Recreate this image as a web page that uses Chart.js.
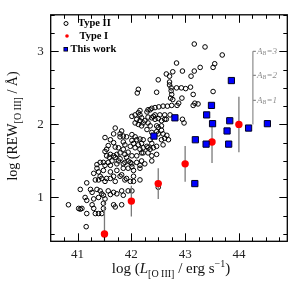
<!DOCTYPE html>
<html>
<head>
<meta charset="utf-8">
<script src="https://cdn.jsdelivr.net/npm/chart.js@4.4.1/dist/chart.umd.min.js"></script>
<style>
html, body { margin: 0; padding: 0; background: #fff; }
</style>
</head>
<body>
<canvas id="chart" width="299" height="286"></canvas>
<script>
// axis ticks
const xTicks = [41, 42, 43, 44];
const yTicks = [1, 2, 3];
const xMinor = [40.75, 41.25, 41.5, 41.75, 42.25, 42.5, 42.75, 43.25, 43.5, 43.75, 44.25, 44.5, 44.75];
const yMinor = [0.5, 0.75, 1.25, 1.5, 1.75, 2.25, 2.5, 2.75, 3.25, 3.5];

// Type II (open circles)
const typeIIX = [
  43.17,43.37,43.69,42.84,43.55,43.52,43.28,43.17,42.95,42.77,
  42.65,42.71,43.11,42.50,42.71,42.71,42.74,42.84,42.93,43.01,
  43.10,42.47,42.74,42.75,43.52,43.15,42.94,42.73,42.77,42.13,
  42.11,42.88,42.85,43.15,43.18,43.24,42.67,42.75,42.51,42.59,
  42.35,42.44,42.44,42.53,42.62,42.72,42.95,42.98,42.38,42.44,
  42.50,42.56,42.62,42.35,42.47,42.56,42.38,42.47,42.59,42.35,
  42.59,42.29,42.31,42.31,42.29,42.66,42.62,42.56,42.29,42.35,
  42.41,42.31,42.38,42.47,42.69,42.65,42.16,42.13,42.07,42.01,
  42.16,42.19,42.10,42.16,42.07,42.13,42.22,42.19,42.25,42.31,
  42.38,42.41,42.50,42.56,42.50,41.70,41.82,41.79,41.85,41.91,
  41.79,41.67,41.51,41.61,41.67,41.57,41.70,41.54,41.51,42.01,
  42.07,42.10,42.16,42.01,42.04,42.13,42.19,41.98,42.07,42.16,
  42.22,42.22,41.85,41.88,41.76,41.85,41.79,41.88,41.73,41.94,
  41.61,41.54,41.67,41.59,42.31,42.19,42.38,42.47,42.22,41.70,
  41.79,41.91,42.01,42.10,41.98,41.85,41.73,41.64,41.61,41.42,
  41.51,41.36,41.48,41.61,41.73,41.85,42.01,42.16,42.25,42.38,
  41.30,41.42,41.54,41.67,41.82,41.91,42.04,42.16,41.98,41.33,
  41.36,41.48,41.57,41.76,41.88,41.94,42.01,42.10,42.19,41.39,
  41.94,42.04,42.16,41.17,41.39,41.45,41.51,41.61,41.70,41.79,
  41.88,42.04,41.05,41.24,41.27,41.36,41.42,41.45,41.57,41.61,
  41.67,41.73,41.82,41.85,41.94,42.01,41.14,41.17,41.30,41.39,
  41.48,41.51,40.83,41.02,41.05,41.08,41.27,41.30,41.48,41.48,
  41.67,41.70,41.82,41.17,41.33,41.39,41.45,41.16,42.50
];
const typeIIY = [
  3.10,3.06,2.95,2.84,2.83,2.78,2.78,2.73,2.73,2.72,
  2.69,2.66,2.66,2.61,2.58,2.54,2.50,2.50,2.50,2.49,
  2.51,2.44,2.46,2.41,2.45,2.41,2.36,2.36,2.34,2.48,
  2.43,2.29,2.26,2.26,2.29,2.28,2.25,2.26,2.24,2.25,
  2.20,2.23,2.13,2.13,2.13,2.13,2.07,2.02,2.09,2.07,
  2.08,2.05,2.07,1.98,1.98,1.98,1.89,1.90,1.87,1.79,
  1.72,2.17,2.10,2.02,1.93,1.85,1.81,1.79,1.70,1.66,
  1.68,1.61,1.57,1.59,1.79,2.07,2.19,2.16,2.13,2.11,
  2.13,2.09,2.07,2.05,2.02,2.00,2.02,1.98,2.05,2.20,
  2.22,2.11,1.96,1.92,1.87,1.95,1.91,1.87,1.84,1.83,
  1.83,1.87,1.82,1.79,1.75,1.71,1.69,1.66,1.63,1.86,
  1.83,1.79,1.80,1.78,1.74,1.72,1.74,1.70,1.68,1.66,
  1.68,1.61,1.76,1.72,1.68,1.66,1.61,1.59,1.59,1.62,
  1.59,1.57,1.57,1.55,1.68,1.61,1.74,1.70,1.79,1.55,
  1.53,1.55,1.57,1.57,1.48,1.46,1.46,1.50,1.44,1.48,
  1.44,1.40,1.37,1.35,1.37,1.40,1.42,1.44,1.46,1.50,
  1.33,1.29,1.26,1.29,1.31,1.26,1.29,1.24,1.22,1.24,
  1.45,1.48,1.48,1.50,1.48,1.50,1.46,1.48,1.50,1.35,
  1.40,1.37,1.40,1.20,1.24,1.26,1.22,1.26,1.22,1.29,
  1.24,1.22,1.11,1.11,1.07,1.11,1.09,1.05,1.09,1.04,
  1.07,1.05,1.09,1.03,1.09,1.09,1.00,0.96,0.98,1.00,
  1.03,0.98,0.90,0.85,0.84,0.85,0.90,0.85,0.92,0.85,
  0.90,0.87,0.90,0.78,0.78,0.78,0.78,0.60,1.14
];

// Type I (red, with error bars)
const typeIX = [41.5, 42.0, 42.5, 43.0, 43.5, 44.0];
const typeIY = [0.50, 0.95, 1.19, 1.46, 1.76, 2.00];
const typeIErr = [0.44, 0.21, 0.21, 0.245, 0.29, 0.38];

// This work (blue squares)
const workX = [43.86, 43.49, 43.40, 43.51, 43.83, 43.78, 44.18, 44.53, 43.19, 43.39, 43.81, 42.81, 42.42, 43.18];
const workY = [2.60, 2.26, 2.13, 2.01, 2.05, 1.91, 1.95, 2.01, 1.79, 1.73, 1.73, 2.09, 1.84, 1.19];

// A_B scale bar
const abX = 44.26;
const abBase = 2.0;
const abVals = [1, 2, 3];
const abLevels = [2.33, 2.67, 3.0];

const toPts = (xs, ys) => xs.map((x, i) => ({ x: x, y: ys[i] }));

const SERIF = '"Liberation Serif", "DejaVu Serif", serif';

function drawSegs(ctx, segs, x, y) {
    let total = 0;
    segs.forEach(s => { ctx.font = s.font; total += ctx.measureText(s.t).width; });
    let cx = x - total / 2;
    segs.forEach(s => {
        ctx.font = s.font;
        ctx.fillText(s.t, cx, y + (s.dy || 0));
        cx += ctx.measureText(s.t).width;
    });
}

const errorBars = {
    id: 'errorBars',
    beforeDatasetDraw(chart, args) {
        if (args.index !== 1) return;
        const ctx = chart.ctx, xs = chart.scales.x, ys = chart.scales.y, a = chart.chartArea;
        ctx.save();
        ctx.beginPath();
        ctx.rect(a.left, a.top, a.right - a.left, a.bottom - a.top);
        ctx.clip();
        ctx.strokeStyle = '#7a7a7a';
        ctx.lineWidth = 1.3;
        ctx.beginPath();
        typeIX.forEach((x, i) => {
            const px = xs.getPixelForValue(x);
            ctx.moveTo(px, ys.getPixelForValue(typeIY[i] + typeIErr[i]));
            ctx.lineTo(px, ys.getPixelForValue(typeIY[i] - typeIErr[i]));
        });
        ctx.stroke();
        ctx.restore();
    }
};

const frame = {
    id: 'frame',
    afterDraw(chart) {
        const ctx = chart.ctx, xs = chart.scales.x, ys = chart.scales.y, a = chart.chartArea;
        ctx.save();

        // ticks on all four sides, pointing in
        ctx.strokeStyle = '#000';
        ctx.lineWidth = 1;
        ctx.beginPath();
        const xMarks = (vals, len) => vals.forEach(v => {
            const p = Math.round(xs.getPixelForValue(v)) + 0.5;
            ctx.moveTo(p, a.bottom); ctx.lineTo(p, a.bottom - len);
            ctx.moveTo(p, a.top); ctx.lineTo(p, a.top + len);
        });
        const yMarks = (vals, len) => vals.forEach(v => {
            const p = Math.round(ys.getPixelForValue(v)) + 0.5;
            ctx.moveTo(a.left, p); ctx.lineTo(a.left + len, p);
            ctx.moveTo(a.right, p); ctx.lineTo(a.right - len, p);
        });
        xMarks(xTicks, 8); xMarks(xMinor, 4);
        yMarks(yTicks, 8); yMarks(yMinor, 4);
        ctx.stroke();

        ctx.lineWidth = 1.3;
        ctx.strokeRect(a.left, a.top, a.right - a.left, a.bottom - a.top);

        // A_B scale bar
        ctx.strokeStyle = '#8c8c8c';
        ctx.fillStyle = '#8c8c8c';
        ctx.lineWidth = 1.2;
        const bx = xs.getPixelForValue(abX);
        ctx.beginPath();
        ctx.moveTo(bx, ys.getPixelForValue(abBase));
        ctx.lineTo(bx, ys.getPixelForValue(abLevels[abLevels.length - 1]));
        abLevels.forEach(v => {
            const py = ys.getPixelForValue(v);
            ctx.moveTo(bx, py); ctx.lineTo(bx + 3, py);
        });
        ctx.stroke();
        ctx.textBaseline = 'middle';
        ctx.textAlign = 'left';
        abLevels.forEach((v, i) => {
            const py = ys.getPixelForValue(v);
            let cx = bx + 4;
            ctx.font = 'italic 9px ' + SERIF;
            ctx.fillText('A', cx, py);
            cx += ctx.measureText('A').width;
            ctx.font = 'italic 6px ' + SERIF;
            ctx.fillText('B', cx, py + 2);
            cx += ctx.measureText('B').width + 0.5;
            ctx.font = 'italic 9px ' + SERIF;
            ctx.fillText('=' + abVals[i], cx, py);
        });

        // legend
        ctx.lineWidth = 1;
        ctx.strokeStyle = '#000';
        ctx.beginPath();
        ctx.arc(66, 23.5, 2, 0, Math.PI * 2);
        ctx.stroke();
        ctx.fillStyle = '#ff0000';
        ctx.beginPath();
        ctx.arc(67, 36, 1.8, 0, Math.PI * 2);
        ctx.fill();
        ctx.fillStyle = '#000';
        ctx.fillRect(63.5, 47, 4.5, 4.5);
        ctx.fillStyle = '#0000ff';
        ctx.fillRect(64.3, 47.8, 2.9, 2.9);
        ctx.fillStyle = '#000';
        ctx.font = 'bold 10.5px ' + SERIF;
        ctx.textBaseline = 'middle';
        ctx.fillText('Type II', 78, 23.5);
        ctx.fillText('Type I', 79.5, 36.5);
        ctx.fillText('This work', 70.5, 49.5);

        // axis titles
        ctx.fillStyle = '#111';
        ctx.textBaseline = 'alphabetic';
        ctx.textAlign = 'left';
        const big = '15px ' + SERIF, small = '10px ' + SERIF;
        drawSegs(ctx, [
            { t: 'log (', font: big },
            { t: 'L', font: 'italic ' + big },
            { t: '[O III]', font: small, dy: 4 },
            { t: ' / erg s', font: big },
            { t: '\u22121', font: small, dy: -6 },
            { t: ')', font: big }
        ], 171, 273);

        ctx.translate(17, 126);
        ctx.rotate(-Math.PI / 2);
        drawSegs(ctx, [
            { t: 'log (REW', font: '14px ' + SERIF },
            { t: '[O III]', font: small, dy: 4 },
            { t: ' / \u00c5)', font: '14px ' + SERIF }
        ], 0, 0);
        ctx.restore();
    }
};

new Chart(document.getElementById('chart'), {
    type: 'scatter',
    data: {
        datasets: [
            {
                label: 'This work',
                data: toPts(workX, workY),
                pointStyle: 'rect',
                pointRadius: 4.4,
                backgroundColor: '#0000ff',
                borderColor: '#000022',
                borderWidth: 1
            },
            {
                label: 'Type I',
                data: toPts(typeIX, typeIY),
                pointStyle: 'circle',
                pointRadius: 3.7,
                backgroundColor: '#ff0000',
                borderColor: '#ff0000',
                borderWidth: 0
            },
            {
                label: 'Type II',
                data: toPts(typeIIX, typeIIY),
                pointStyle: 'circle',
                pointRadius: 2.3,
                backgroundColor: 'rgba(0,0,0,0)',
                borderColor: '#000',
                borderWidth: 1
            }
        ]
    },
    options: {
        responsive: false,
        animation: false,
        layout: { padding: { top: 4, right: 11.7, left: 0, bottom: 0 } },
        plugins: { legend: { display: false }, tooltip: { enabled: false } },
        scales: {
            x: {
                type: 'linear',
                min: 40.5,
                max: 44.9,
                grid: { display: false, drawTicks: false },
                border: { display: false },
                afterBuildTicks: s => { s.ticks = xTicks.map(v => ({ value: v })); },
                afterFit: s => { s.height = 44.7; },
                ticks: { color: '#222', padding: 5, maxRotation: 0, font: { family: SERIF, size: 13 } }
            },
            y: {
                type: 'linear',
                min: 0.4,
                max: 3.5,
                grid: { display: false, drawTicks: false },
                border: { display: false },
                afterBuildTicks: s => { s.ticks = yTicks.map(v => ({ value: v })); },
                afterFit: s => { s.width = 50.7; },
                ticks: { color: '#222', padding: 7, font: { family: SERIF, size: 13 } }
            }
        }
    },
    plugins: [errorBars, frame]
});
</script>
</body>
</html>
